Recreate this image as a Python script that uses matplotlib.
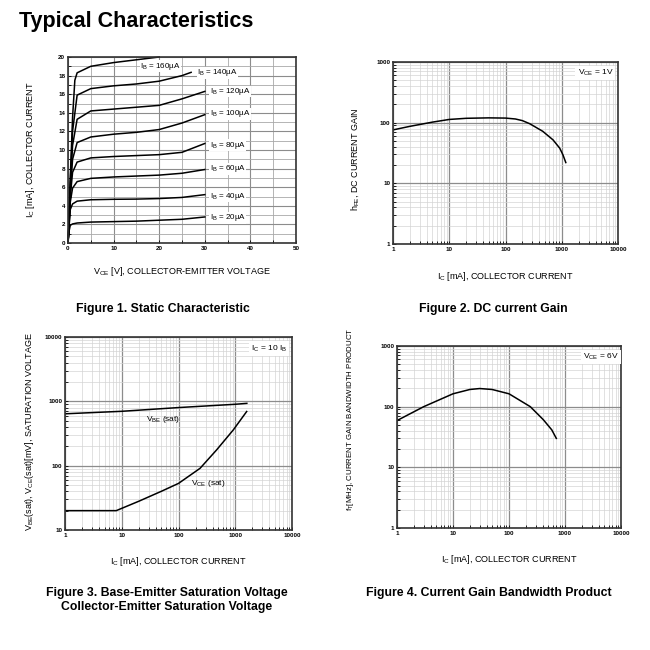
import numpy as np
import matplotlib
matplotlib.use('Agg')
import matplotlib.pyplot as plt
from matplotlib.ticker import LogLocator, NullFormatter, FixedLocator

plt.rcParams['font.family'] = ['Liberation Sans', 'DejaVu Sans']
plt.rcParams['mathtext.fontset'] = 'custom'
plt.rcParams['mathtext.rm'] = 'Liberation Sans'
plt.rcParams['mathtext.it'] = 'Liberation Sans'

# Figure 1: static characteristic
ib_labels = ['20', '40', '60', '80', '100', '120', '140', '160']
vce_common = [0, 0.2, 0.5, 1, 2, 5, 10, 15, 20, 25, 30]
ic_20 = [0, 1.2, 1.9, 2.05, 2.15, 2.25, 2.3, 2.35, 2.45, 2.55, 2.8]
ic_40 = [0, 1.5, 3.6, 4.2, 4.5, 4.65, 4.7, 4.72, 4.78, 4.9, 5.2]
ic_60 = [0, 1.6, 4.4, 5.9, 6.6, 6.95, 7.1, 7.2, 7.3, 7.5, 7.9]
ic_80 = [0, 1.7, 5.0, 7.6, 8.7, 9.15, 9.3, 9.4, 9.5, 9.75, 10.7]
ic_100 = [0, 1.8, 5.5, 9.0, 10.8, 11.4, 11.7, 11.9, 12.2, 12.9, 13.8]
ic_120 = [0, 1.9, 6.0, 10.5, 13.3, 14.2, 14.4, 14.6, 14.8, 15.5, 16.3]
vce_140 = [0, 0.2, 0.5, 1, 2, 5, 10, 15, 20, 25, 27]
ic_140 = [0, 2.0, 6.5, 12.0, 15.9, 16.6, 16.9, 17.1, 17.4, 18.0, 18.35]
vce_160 = [0, 0.2, 0.5, 1, 1.5, 2, 5, 10, 15, 20]
ic_160 = [0, 2.0, 7.0, 13.5, 17.5, 18.3, 19.0, 19.4, 19.7, 20.0]
label_v = [31.1, 31.1, 31.1, 31.1, 31.1, 31.1, 28.3, 15.8]
label_i = [2.7, 5.0, 8.0, 10.5, 13.9, 16.3, 18.3, 19.0]

# Figure 2: DC current gain
ic_hfe = [1, 2, 5, 10, 20, 50, 100, 150, 200, 270, 460, 700, 920, 1050, 1180]
hfe = [76, 87, 102, 113, 118, 120, 119, 115, 108, 96, 72, 52, 38, 29.5, 22]

# Figure 3: saturation voltages
ic_vbe = [1, 10, 100, 1000, 1600]
vbe_sat = [640, 700, 800, 900, 930]
ic_vce = [1, 8, 20, 50, 100, 240, 470, 925, 1590]
vce_sat = [20, 20, 28, 40, 53, 91, 176, 360, 695]

# Figure 4: gain bandwidth product
ic_ft = [1, 3, 10, 20, 30, 50, 100, 240, 410, 580, 700]
ft = [59, 100, 163, 192, 199, 192, 163, 100, 61, 41.5, 30]

W = H = 650
fig = plt.figure(figsize=(6.5, 6.5), dpi=100)


def box(l, r, t, b):
    return fig.add_axes([l / W, 1 - b / H, (r - l) / W, (b - t) / H])


def style(ax):
    for s in ax.spines.values():
        s.set_linewidth(1.2)
        s.set_color('#333333')
    ax.tick_params(which='both', direction='in', labelsize=4.5, length=2,
                   width=0.6, pad=2, top=False, right=False)
    for t in ax.get_xticklabels() + ax.get_yticklabels():
        t.set_fontweight('bold')


def logaxes(ax, ylo, yhi):
    ax.set_xscale('log')
    ax.set_yscale('log')
    ax.set_xlim(1, 10000)
    ax.set_ylim(ylo, yhi)
    for axis in (ax.xaxis, ax.yaxis):
        axis.set_major_locator(LogLocator(base=10, numticks=10))
        axis.set_minor_locator(LogLocator(base=10, subs=np.arange(2, 10), numticks=20))
        axis.set_minor_formatter(NullFormatter())
    ax.xaxis.set_major_formatter(plt.FuncFormatter(lambda v, p: '%d' % v))
    ax.yaxis.set_major_formatter(plt.FuncFormatter(lambda v, p: '%d' % v))
    ax.grid(which='major', color='#8c8c8c', lw=0.9)
    ax.grid(which='minor', color='#d4d4d4', lw=0.5)
    ax.set_axisbelow(True)


def note(ax, x, y, s):
    ax.text(x, y, s, transform=ax.transAxes, fontsize=6, ha='left', va='center',
            bbox=dict(facecolor='white', edgecolor='none', pad=1.5))


def caption(x, y, s):
    fig.text(x / W, 1 - y / H, s, fontsize=8.8, fontweight='bold',
             ha='center', va='center', linespacing=1.25)


fig.text(19 / W, 1 - 21 / H, 'Typical Characteristics', fontsize=15.5,
         fontweight='bold', va='center', ha='left')

# ---- Figure 1
ax1 = box(68, 296, 57, 243)
ax1.set_xlim(0, 50)
ax1.set_ylim(0, 20)
ax1.xaxis.set_major_locator(FixedLocator(range(0, 51, 10)))
ax1.xaxis.set_minor_locator(FixedLocator(range(5, 50, 10)))
ax1.yaxis.set_major_locator(FixedLocator(range(0, 21, 2)))
ax1.yaxis.set_minor_locator(FixedLocator(range(1, 20, 2)))
ax1.grid(which='major', color='#8c8c8c', lw=0.8)
ax1.grid(which='minor', color='#a8a8a8', lw=0.6)
ax1.set_axisbelow(True)
curves = [(vce_common, ic_20), (vce_common, ic_40), (vce_common, ic_60),
          (vce_common, ic_80), (vce_common, ic_100), (vce_common, ic_120),
          (vce_140, ic_140), (vce_160, ic_160)]
for (v, i), lab, lx, ly in zip(curves, ib_labels, label_v, label_i):
    ax1.plot(v, i, color='black', lw=1.1, clip_on=False)
    ax1.text(lx, ly, r'I$_{\rm B}$ = ' + lab + 'µA', fontsize=5.8, ha='left',
             va='center', bbox=dict(facecolor='white', edgecolor='none', pad=0.3))
style(ax1)
fig.text(31 / W, 1 - 150 / H, r'I$_{\rm C}$ [mA], COLLECTOR CURRENT', rotation=90,
         fontsize=6.5, ha='center', va='center')
fig.text(182 / W, 1 - 272 / H, r'V$_{\rm CE}$ [V], COLLECTOR-EMITTER VOLTAGE',
         fontsize=6.5, ha='center', va='center')
caption(163, 309, 'Figure 1. Static Characteristic')

# ---- Figure 2
ax2 = box(393, 618, 62, 244)
logaxes(ax2, 1, 1000)
ax2.plot(ic_hfe, hfe, color='black', lw=1.1)
note(ax2, 0.82, 0.94, r'V$_{\rm CE}$ = 1V')
style(ax2)
fig.text(355 / W, 1 - 159 / H, r'h$_{\rm FE}$, DC CURRENT GAIN', rotation=90,
         fontsize=6.5, ha='center', va='center')
fig.text(505 / W, 1 - 277 / H, r'I$_{\rm C}$ [mA], COLLECTOR CURRENT',
         fontsize=6.5, ha='center', va='center')
caption(493, 309, 'Figure 2. DC current Gain')

# ---- Figure 3
ax3 = box(65, 292, 337, 530)
logaxes(ax3, 10, 10000)
ax3.plot(ic_vbe, vbe_sat, color='black', lw=1.1)
ax3.plot(ic_vce, vce_sat, color='black', lw=1.1)
ax3.text(27, 515, r'V$_{\rm BE}$ (sat)', fontsize=6, ha='left', va='center')
ax3.text(166, 53, r'V$_{\rm CE}$ (sat)', fontsize=6, ha='left', va='center')
note(ax3, 0.82, 0.94, r'I$_{\rm C}$ = 10 I$_{\rm B}$')
style(ax3)
fig.text(30 / W, 1 - 432 / H, r'V$_{\rm BE}$(sat), V$_{\rm CE}$(sat)[mV], SATURATION VOLTAGE',
         rotation=90, fontsize=6.5, ha='center', va='center')
fig.text(178 / W, 1 - 562 / H, r'I$_{\rm C}$ [mA], COLLECTOR CURRENT',
         fontsize=6.5, ha='center', va='center')
caption(167, 600, 'Figure 3. Base-Emitter Saturation Voltage\nCollector-Emitter Saturation Voltage')

# ---- Figure 4
ax4 = box(397, 621, 346, 528)
logaxes(ax4, 1, 1000)
ax4.plot(ic_ft, ft, color='black', lw=1.1)
note(ax4, 0.83, 0.94, r'V$_{\rm CE}$ = 6V')
style(ax4)
fig.text(350 / W, 1 - 419 / H, r'f$_{\rm T}$[MHz], CURRENT GAIN BANDWIDTH PRODUCT',
         rotation=90, fontsize=5.7, ha='center', va='center')
fig.text(509 / W, 1 - 559 / H, r'I$_{\rm C}$ [mA], COLLECTOR CURRENT',
         fontsize=6.5, ha='center', va='center')
caption(489, 593, 'Figure 4. Current Gain Bandwidth Product')

fig.savefig('out.png', dpi=100, facecolor='white')
